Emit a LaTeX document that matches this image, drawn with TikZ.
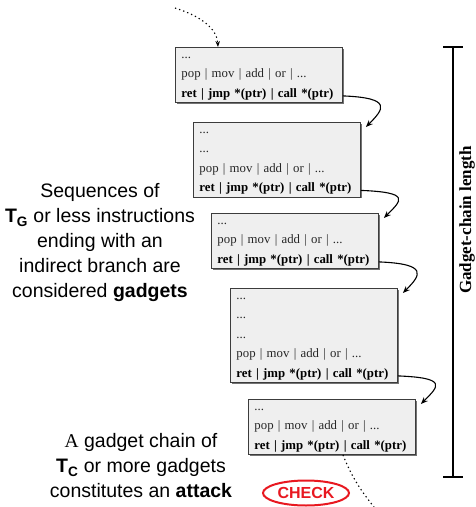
\documentclass[tikz,border=0pt]{standalone}
\usepackage{fontspec}
\setmainfont{Liberation Sans}
\newfontfamily\boxfont{Liberation Serif}
\newfontfamily\serifA{Liberation Serif}
\usetikzlibrary{arrows.meta,shapes.geometric,calc,shadows}
\definecolor{boxfill}{RGB}{239,239,239}
\definecolor{boxline}{RGB}{60,60,60}
\definecolor{checkred}{RGB}{232,24,32}
\tikzset{
  gadget/.style={draw=boxline, fill=boxfill, line width=0.9pt, anchor=north west,
    text width=155pt, align=left, inner xsep=6pt, inner ysep=0pt,
    drop shadow={shadow xshift=1.2pt, shadow yshift=-1.2pt, fill=black!55, opacity=1},
    font=\boxfont\fontsize{12.8}{19.5}\selectfont, text=black!85},
  link/.style={line width=1.1pt, -{Stealth[length=7pt,width=5.5pt]}},
  dotlink/.style={line width=1.1pt, dash pattern=on 1.3pt off 3pt},
  note/.style={align=center, font=\fontsize{19.5}{25}\selectfont},
}
\newcommand{\topstrut}{\rule{0pt}{11pt}}
\newcommand{\botstrut}{\rule[-5pt]{0pt}{5pt}}
\newcommand{\lastline}{\mbox{\textbf{\color{black}ret | jmp *(ptr) | call *(ptr)}}\botstrut}
\begin{document}
\begin{tikzpicture}[x=1pt,y=1pt]
\useasboundingbox (0,0) rectangle (475,-507);
% gadget boxes
\node[gadget] (b1) at (175,-47) {\topstrut...\\pop | mov | add | or | ...\\\lastline};
\node[gadget] (b2) at (193,-122) {\topstrut...\\...\\pop | mov | add | or | ...\\\lastline};
\node[gadget] (b3) at (211,-213) {\topstrut...\\pop | mov | add | or | ...\\\lastline};
\node[gadget] (b4) at (230,-288) {\topstrut...\\...\\...\\pop | mov | add | or | ...\\\lastline};
\node[gadget] (b5) at (248,-399) {\topstrut...\\pop | mov | add | or | ...\\\lastline};
% links between gadgets
\foreach \a/\b in {b1/b2,b2/b3,b3/b4,b4/b5}{
  \draw[link] ($(\a.south east)+(0,7)$) .. controls +(50,-2) and +(18,18) .. ($(\b.north east)+(5,-5)$);
}
% incoming and outgoing dotted flow
\coordinate (inflow) at (175,-8);
\coordinate (outflow) at (374,-507);
\draw[dotlink, -{Stealth[length=6pt,width=4.5pt]}] (inflow) .. controls (200,-16) and (217,-28) .. ($(b1.north west)+(43,0)$);
\draw[dotlink] ($(b5.south west)+(95,0)$) .. controls (352,-478) and (362,-492) .. (outflow);
% notes
\node[note] (n1) at (100,-243) {Sequences of\\\textbf{T\textsubscript{G}} or less instructions\\ending with an\\indirect branch are\\considered \textbf{gadgets}};
\node[note] (n2) at (141,-466) {{\serifA A} gadget chain of\\\textbf{T\textsubscript{C}} or more gadgets\\constitutes an \textbf{attack}};
\node[draw=checkred, line width=2pt, ellipse, text=checkred, inner sep=0pt,
  minimum width=86pt, minimum height=25pt, font=\bfseries\fontsize{16}{16}\selectfont] (chk) at (306,-493) {CHECK};
% chain length bracket
\coordinate (brT) at (453,-47);
\coordinate (brB) at (453,-477);
\draw[line width=2pt] (brT) -- (brB);
\draw[line width=2pt] ($(brT)+(-10,0)$) -- ($(brT)+(10,0)$);
\draw[line width=2pt] ($(brB)+(-10,0)$) -- ($(brB)+(10,0)$);
\node[rotate=90, font=\boxfont\bfseries\fontsize{17}{17}\selectfont] (lbl) at (467,-220) {Gadget-chain length};
\end{tikzpicture}
\end{document}
